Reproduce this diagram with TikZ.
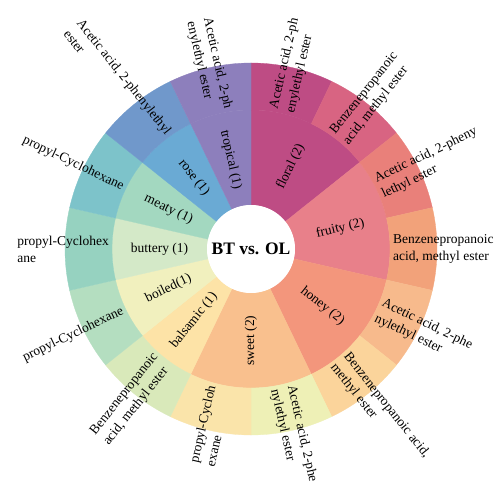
\documentclass[tikz,border=0pt]{standalone}
\usepackage{fontspec}
\setmainfont{Liberation Serif}

\definecolor{floralc}{RGB}{190,76,132}
\definecolor{fruityc}{RGB}{232,128,138}
\definecolor{honeyc}{RGB}{243,150,124}
\definecolor{sweetc}{RGB}{249,192,142}
\definecolor{balsamicc}{RGB}{253,227,167}
\definecolor{boiledc}{RGB}{241,240,190}
\definecolor{butteryc}{RGB}{212,233,200}
\definecolor{meatyc}{RGB}{163,216,192}
\definecolor{rosec}{RGB}{106,170,212}
\definecolor{tropicalc}{RGB}{141,127,188}
\definecolor{floralbc}{RGB}{216,100,130}
\definecolor{fruityac}{RGB}{233,128,122}
\definecolor{fruitybc}{RGB}{242,162,122}
\definecolor{honeyac}{RGB}{247,186,140}
\definecolor{honeybc}{RGB}{251,212,155}
\definecolor{sweetac}{RGB}{238,240,182}
\definecolor{sweetpc}{RGB}{250,228,170}
\definecolor{balsamicbc}{RGB}{217,233,186}
\definecolor{boiledpc}{RGB}{180,222,192}
\definecolor{butterypc}{RGB}{150,210,192}
\definecolor{meatypc}{RGB}{125,195,202}
\definecolor{roseac}{RGB}{112,152,203}

\tikzset{
  inlabel/.style={font=\fontsize{13.5}{16}\selectfont, inner sep=0pt},
  outlabel/.style={font=\fontsize{13.5}{17}\selectfont, align=left, inner sep=3pt},
}

\begin{document}
\begin{tikzpicture}
    \clip (0pt,0pt) rectangle (500pt,498pt);
    \fill[white] (0pt,0pt) rectangle (500pt,498pt);
    \begin{scope}[shift={(251pt,249pt)}, line width=.3pt]
        %inner ring 44-139
        \filldraw[floralc] (90:44pt) arc[start angle=90, end angle=38.57, radius=44pt] -- (38.57:139pt) arc[start angle=38.57, end angle=90, radius=139pt] -- cycle;
        \filldraw[fruityc] (38.57:44pt) arc[start angle=38.57, end angle=-12.86, radius=44pt] -- (-12.86:139pt) arc[start angle=-12.86, end angle=38.57, radius=139pt] -- cycle;
        \filldraw[honeyc] (-12.86:44pt) arc[start angle=-12.86, end angle=-64.29, radius=44pt] -- (-64.29:139pt) arc[start angle=-64.29, end angle=-12.86, radius=139pt] -- cycle;
        \filldraw[sweetc] (-64.29:44pt) arc[start angle=-64.29, end angle=-115.71, radius=44pt] -- (-115.71:139pt) arc[start angle=-115.71, end angle=-64.29, radius=139pt] -- cycle;
        \filldraw[balsamicc] (-115.71:44pt) arc[start angle=-115.71, end angle=-141.43, radius=44pt] -- (-141.43:139pt) arc[start angle=-141.43, end angle=-115.71, radius=139pt] -- cycle;
        \filldraw[boiledc] (-141.43:44pt) arc[start angle=-141.43, end angle=-167.14, radius=44pt] -- (-167.14:139pt) arc[start angle=-167.14, end angle=-141.43, radius=139pt] -- cycle;
        \filldraw[butteryc] (-167.14:44pt) arc[start angle=-167.14, end angle=-192.86, radius=44pt] -- (-192.86:139pt) arc[start angle=-192.86, end angle=-167.14, radius=139pt] -- cycle;
        \filldraw[meatyc] (-192.86:44pt) arc[start angle=-192.86, end angle=-218.57, radius=44pt] -- (-218.57:139pt) arc[start angle=-218.57, end angle=-192.86, radius=139pt] -- cycle;
        \filldraw[rosec] (-218.57:44pt) arc[start angle=-218.57, end angle=-244.29, radius=44pt] -- (-244.29:139pt) arc[start angle=-244.29, end angle=-218.57, radius=139pt] -- cycle;
        \filldraw[tropicalc] (-244.29:44pt) arc[start angle=-244.29, end angle=-270, radius=44pt] -- (-270:139pt) arc[start angle=-270, end angle=-244.29, radius=139pt] -- cycle;

        %outer ring 139-186
        \filldraw[floralc] (90:139pt) arc[start angle=90, end angle=64.29, radius=139pt] -- (64.29:186pt) arc[start angle=64.29, end angle=90, radius=186pt] -- cycle;
        \filldraw[floralbc] (64.29:139pt) arc[start angle=64.29, end angle=38.57, radius=139pt] -- (38.57:186pt) arc[start angle=38.57, end angle=64.29, radius=186pt] -- cycle;
        \filldraw[fruityac] (38.57:139pt) arc[start angle=38.57, end angle=12.86, radius=139pt] -- (12.86:186pt) arc[start angle=12.86, end angle=38.57, radius=186pt] -- cycle;
        \filldraw[fruitybc] (12.86:139pt) arc[start angle=12.86, end angle=-12.86, radius=139pt] -- (-12.86:186pt) arc[start angle=-12.86, end angle=12.86, radius=186pt] -- cycle;
        \filldraw[honeyac] (-12.86:139pt) arc[start angle=-12.86, end angle=-38.57, radius=139pt] -- (-38.57:186pt) arc[start angle=-38.57, end angle=-12.86, radius=186pt] -- cycle;
        \filldraw[honeybc] (-38.57:139pt) arc[start angle=-38.57, end angle=-64.29, radius=139pt] -- (-64.29:186pt) arc[start angle=-64.29, end angle=-38.57, radius=186pt] -- cycle;
        \filldraw[sweetac] (-64.29:139pt) arc[start angle=-64.29, end angle=-90, radius=139pt] -- (-90:186pt) arc[start angle=-90, end angle=-64.29, radius=186pt] -- cycle;
        \filldraw[sweetpc] (-90:139pt) arc[start angle=-90, end angle=-115.71, radius=139pt] -- (-115.71:186pt) arc[start angle=-115.71, end angle=-90, radius=186pt] -- cycle;
        \filldraw[balsamicbc] (-115.71:139pt) arc[start angle=-115.71, end angle=-141.43, radius=139pt] -- (-141.43:186pt) arc[start angle=-141.43, end angle=-115.71, radius=186pt] -- cycle;
        \filldraw[boiledpc] (-141.43:139pt) arc[start angle=-141.43, end angle=-167.14, radius=139pt] -- (-167.14:186pt) arc[start angle=-167.14, end angle=-141.43, radius=186pt] -- cycle;
        \filldraw[butterypc] (-167.14:139pt) arc[start angle=-167.14, end angle=-192.86, radius=139pt] -- (-192.86:186pt) arc[start angle=-192.86, end angle=-167.14, radius=186pt] -- cycle;
        \filldraw[meatypc] (-192.86:139pt) arc[start angle=-192.86, end angle=-218.57, radius=139pt] -- (-218.57:186pt) arc[start angle=-218.57, end angle=-192.86, radius=186pt] -- cycle;
        \filldraw[roseac] (-218.57:139pt) arc[start angle=-218.57, end angle=-244.29, radius=139pt] -- (-244.29:186pt) arc[start angle=-244.29, end angle=-218.57, radius=186pt] -- cycle;
        \filldraw[tropicalc] (-244.29:139pt) arc[start angle=-244.29, end angle=-270, radius=139pt] -- (-270:186pt) arc[start angle=-270, end angle=-244.29, radius=186pt] -- cycle;

        %centre
        \node[circle, fill=white, minimum size=88pt, inner sep=0pt, font=\fontsize{17.5}{20}\selectfont\bfseries] (centre) at (0,0) {BT vs. OL};

        %inner labels
        \node[inlabel, rotate=64.29] (floral) at (64.29:91.5pt) {floral (2)};
        \node[inlabel, rotate=12.86] (fruity) at (12.86:91.5pt) {fruity (2)};
        \node[inlabel, rotate=-38.57] (honey) at (-38.57:91.5pt) {honey (2)};
        \node[inlabel, rotate=90] (sweet) at (-90:91.5pt) {sweet (2)};
        \node[inlabel, rotate=51.43] (balsamic) at (-128.57:91.5pt) {balsamic (1)};
        \node[inlabel, rotate=25.71] (boiled) at (-154.29:91.5pt) {boiled(1)};
        \node[inlabel, rotate=0] (buttery) at (180:91.5pt) {buttery (1)};
        \node[inlabel, rotate=-25.71] (meaty) at (154.29:91.5pt) {meaty (1)};
        \node[inlabel, rotate=-51.43] (rose) at (128.57:91.5pt) {rose (1)};
        \node[inlabel, rotate=-77.14] (tropical) at (102.86:91.5pt) {tropical (1)};

        %outer labels, right half
        \node[outlabel, rotate=77.14, anchor=west] (floralA) at (77.14:139pt) {Acetic acid, 2-ph\\enylethyl ester};
        \node[outlabel, rotate=51.43, anchor=west] (floralB) at (51.43:139pt) {Benzenepropanoic\\acid, methyl ester};
        \node[outlabel, rotate=25.71, anchor=west] (fruityA) at (25.71:139pt) {Acetic acid, 2-pheny\\lethyl ester};
        \node[outlabel, rotate=0, anchor=west] (fruityB) at (0:139pt) {Benzenepropanoic\\acid, methyl ester};
        \node[outlabel, rotate=-25.71, anchor=west] (honeyA) at (-25.71:139pt) {Acetic acid, 2-phe\\nylethyl ester};
        \node[outlabel, rotate=-51.43, anchor=west] (honeyB) at (-51.43:139pt) {Benzenepropanoic acid,\\methyl ester};
        \node[outlabel, rotate=-77.14, anchor=west] (sweetA) at (-77.14:139pt) {Acetic acid, 2-phe\\nylethyl ester};

        %outer labels, left half
        \node[outlabel, rotate=77.14, anchor=east] (sweetP) at (-102.86:139pt) {propyl-Cycloh\\exane};
        \node[outlabel, rotate=51.43, anchor=east] (balsamicB) at (-128.57:139pt) {Benzenepropanoic\\acid, methyl ester};
        \node[outlabel, rotate=25.71, anchor=east] (boiledP) at (-154.29:139pt) {propyl-Cyclohexane};
        \node[outlabel, rotate=0, anchor=east] (butteryP) at (180:139pt) {propyl-Cyclohex\\ane};
        \node[outlabel, rotate=-25.71, anchor=east] (meatyP) at (154.29:139pt) {propyl-Cyclohexane};
        \node[outlabel, rotate=-51.43, anchor=east] (roseA) at (128.57:139pt) {Acetic acid, 2-phenylethyl\\ester};
        \node[outlabel, rotate=-77.14, anchor=east] (tropicalA) at (102.86:139pt) {Acetic acid, 2-ph\\enylethyl ester};
    \end{scope}
\end{tikzpicture}
\end{document}
